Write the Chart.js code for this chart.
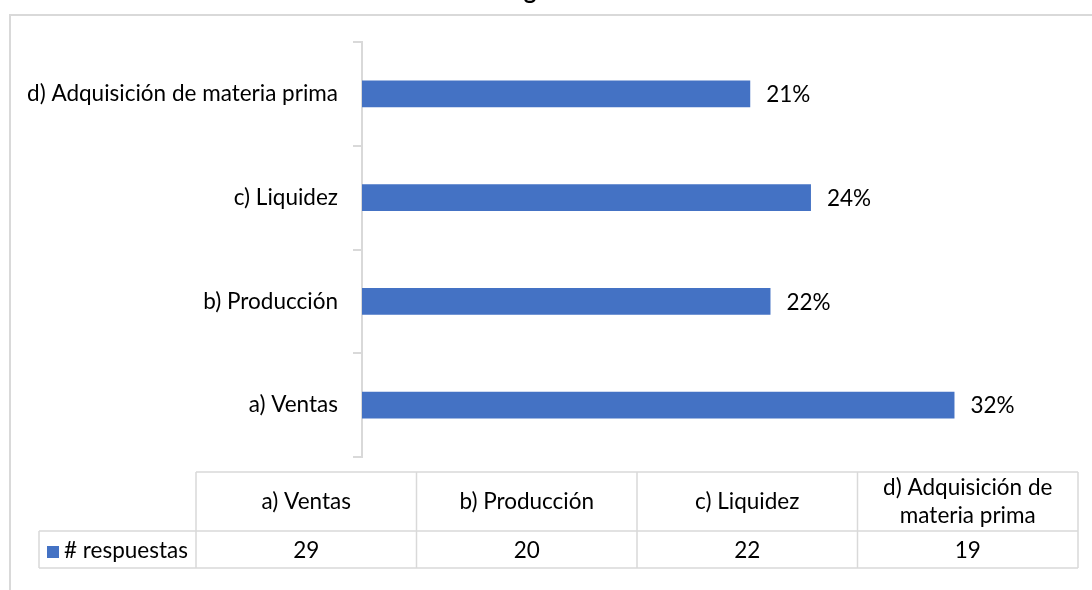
<!DOCTYPE html>
<html>
<head>
<meta charset="utf-8">
<script src="https://cdn.jsdelivr.net/npm/chart.js@4.4.0/dist/chart.umd.min.js"></script>
<style>
  html, body { margin: 0; padding: 0; background: #fff; }
  #wrap { width: 1092px; height: 590px; position: relative; }
</style>
</head>
<body>
<div id="wrap"><canvas id="grafico" width="1092" height="590"></canvas></div>
<script>
const categorias = ['a) Ventas', 'b) Producción', 'c) Liquidez', 'd) Adquisición de materia prima'];
const respuestas = [29, 20, 22, 19];
const porcentajes = [32.2, 22.2, 24.4, 21.1];
const etiquetasPct = ['32%', '22%', '24%', '21%'];
const serieNombre = '# respuestas';
const tituloTexto = 'Pregunta';

const FUENTE = 'Lato, "Open Sans", sans-serif';
const TAM = 22.5;
const AZUL = '#4472C4';
const GRIS = '#d9d9d9';

// marco exterior y título recortado
const fondoPlugin = {
  id: 'fondo',
  beforeDraw(chart) {
    const ctx = chart.ctx;
    ctx.save();
    ctx.strokeStyle = GRIS;
    ctx.lineWidth = 2;
    ctx.strokeRect(10, 15, 1200, 700);
    ctx.fillStyle = '#000';
    ctx.font = 'bold 24px ' + FUENTE;
    ctx.textAlign = 'center';
    ctx.textBaseline = 'alphabetic';
    ctx.fillText(tituloTexto, 536, -1);
    ctx.restore();
  }
};

// etiquetas de porcentaje al final de cada barra
const etiquetasPlugin = {
  id: 'etiquetas',
  afterDatasetsDraw(chart) {
    const ctx = chart.ctx;
    const meta = chart.getDatasetMeta(0);
    ctx.save();
    ctx.fillStyle = '#000';
    ctx.font = TAM + 'px ' + FUENTE;
    ctx.textAlign = 'left';
    ctx.textBaseline = 'middle';
    meta.data.forEach((bar, i) => {
      ctx.fillText(etiquetasPct[i], bar.x + 16, bar.y + 1);
    });
    ctx.restore();
  }
};

function partirTexto(ctx, texto, ancho) {
  const palabras = texto.split(' ');
  const lineas = [];
  let actual = '';
  palabras.forEach(p => {
    const prueba = actual ? actual + ' ' + p : p;
    if (ctx.measureText(prueba).width > ancho && actual) {
      lineas.push(actual);
      actual = p;
    } else {
      actual = prueba;
    }
  });
  if (actual) lineas.push(actual);
  return lineas;
}

// tabla de datos debajo del gráfico
const tablaPlugin = {
  id: 'tabla',
  afterDraw(chart) {
    const ctx = chart.ctx;
    const x0 = 196, x1 = 1078, xl = 39;
    const yTop = 472, yMid = 531, yBot = 568;
    const colW = (x1 - x0) / categorias.length;
    ctx.save();
    ctx.strokeStyle = GRIS;
    ctx.lineWidth = 1.5;
    ctx.beginPath();
    ctx.moveTo(x0, yTop); ctx.lineTo(x1, yTop);
    ctx.moveTo(xl, yMid); ctx.lineTo(x1, yMid);
    ctx.moveTo(xl, yBot); ctx.lineTo(x1, yBot);
    ctx.moveTo(xl, yMid); ctx.lineTo(xl, yBot);
    for (let i = 0; i <= categorias.length; i++) {
      const x = x0 + i * colW;
      ctx.moveTo(x, yTop); ctx.lineTo(x, yBot);
    }
    ctx.stroke();

    ctx.fillStyle = '#000';
    ctx.font = TAM + 'px ' + FUENTE;
    ctx.textAlign = 'center';
    ctx.textBaseline = 'middle';
    categorias.forEach((c, i) => {
      const cx = x0 + i * colW + colW / 2;
      const lineas = partirTexto(ctx, c, colW - 24);
      const alto = 28;
      const cy = (yTop + yMid) / 2 - (lineas.length - 1) * alto / 2;
      lineas.forEach((l, j) => ctx.fillText(l, cx, cy + j * alto));
      ctx.fillText(String(respuestas[i]), cx, (yMid + yBot) / 2 + 1);
    });

    // celda de leyenda
    ctx.fillStyle = AZUL;
    ctx.fillRect(47, 546, 12, 12);
    ctx.fillStyle = '#000';
    ctx.textAlign = 'left';
    ctx.fillText(serieNombre, 64, (yMid + yBot) / 2 + 1);
    ctx.restore();
  }
};

const ctx = document.getElementById('grafico').getContext('2d');
new Chart(ctx, {
  type: 'bar',
  data: {
    labels: categorias,
    datasets: [{
      label: serieNombre,
      data: porcentajes,
      backgroundColor: AZUL,
      borderWidth: 0,
      categoryPercentage: 1,
      barPercentage: 0.26
    }]
  },
  options: {
    indexAxis: 'y',
    responsive: false,
    animation: false,
    layout: { padding: { top: 42, bottom: 133, right: 86, left: 0 } },
    plugins: {
      legend: { display: false },
      tooltip: { enabled: false },
      title: { display: false }
    },
    scales: {
      x: { display: false, min: 0, max: 35 },
      y: {
        reverse: true,
        afterFit: s => { s.width = 362; },
        border: { display: true, color: GRIS, width: 2 },
        grid: { display: true, drawOnChartArea: false, offset: true, color: GRIS, lineWidth: 2, tickLength: 9 },
        ticks: { color: '#000', padding: 15, font: { size: TAM, family: FUENTE } }
      }
    }
  },
  plugins: [fondoPlugin, etiquetasPlugin, tablaPlugin]
});
</script>
</body>
</html>
